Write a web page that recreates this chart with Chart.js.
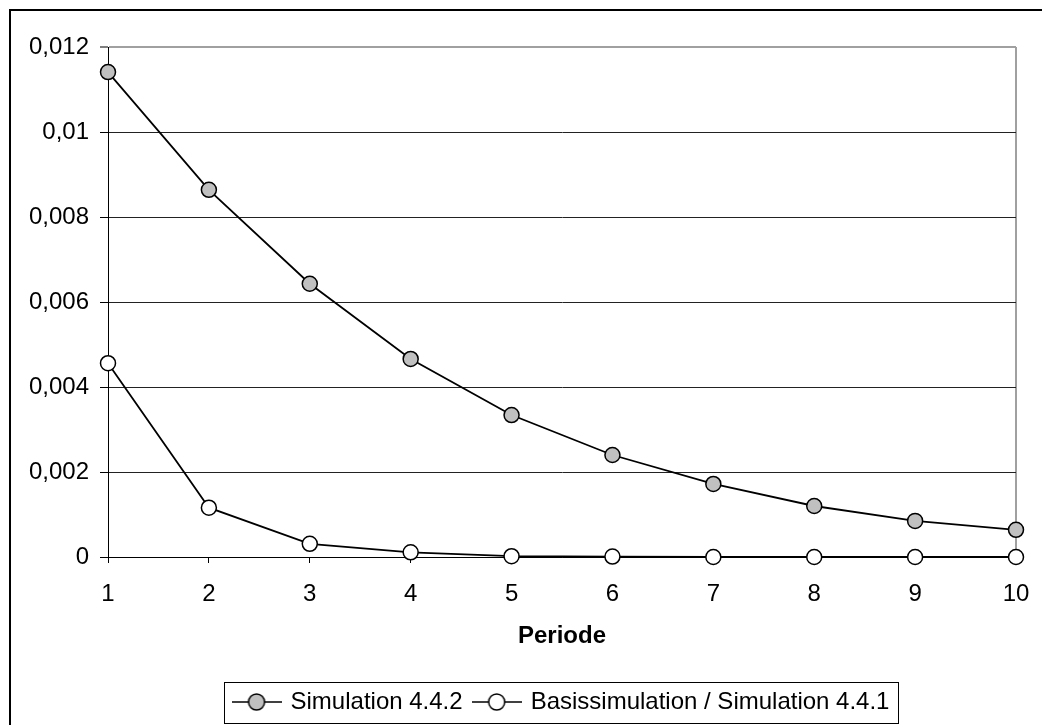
<!DOCTYPE html>
<html>
<head>
<meta charset="utf-8">
<script src="https://cdn.jsdelivr.net/npm/chart.js@4/dist/chart.umd.min.js"></script>
<style>
  html, body { margin: 0; padding: 0; background: #fff; }
  canvas { display: block; }
</style>
</head>
<body>
<canvas id="chart" width="1042" height="725"></canvas>
<script>
// data
const periods = ['1', '2', '3', '4', '5', '6', '7', '8', '9', '10'];
const sim442 = [0.01141, 0.00864, 0.00643, 0.00466, 0.00334, 0.0024, 0.00172, 0.0012, 0.00085, 0.00064];
const basis = [0.00456, 0.00116, 0.00031, 0.00011, 0.00002, 0.00001, 0, 0, 0, 0];
const seriesNames = ['Simulation 4.4.2', 'Basissimulation / Simulation 4.4.1'];
const yTicksMax = 0.012;
const yTicksStep = 0.002;

Chart.defaults.font.family = '"Liberation Sans", Arial, sans-serif';
Chart.defaults.font.size = 24;
Chart.defaults.color = '#000';

// little "—o—" marker for the legend
function legendMarker(fill) {
  const c = document.createElement('canvas');
  c.width = 50; c.height = 20;
  const g = c.getContext('2d');
  g.strokeStyle = '#000';
  g.lineWidth = 1.5;
  g.beginPath(); g.moveTo(0, 10); g.lineTo(50, 10); g.stroke();
  g.beginPath(); g.arc(25, 10, 8, 0, Math.PI * 2);
  g.fillStyle = fill; g.fill(); g.stroke();
  return c;
}
const markers = [legendMarker('#c0c0c0'), legendMarker('#ffffff')];

const frame = {
  id: 'frame',
  beforeDraw(chart) {
    const ctx = chart.ctx;
    ctx.save();
    ctx.fillStyle = '#fff';
    ctx.fillRect(0, 0, chart.width, chart.height);
    ctx.restore();
    // center legend on the plot area like Excel does
    chart.legend.left = chart.chartArea.left;
    chart.legend.right = chart.chartArea.right;
  },
  afterDraw(chart) {
    const ctx = chart.ctx;
    const lg = chart.legend;
    const pad = lg.options.labels.padding;
    const startX = (lg.left + pad + lg.right - lg.lineWidths[0]) / 2;
    const cy = lg.top + pad + 12;
    ctx.save();
    ctx.strokeStyle = '#000';
    ctx.lineWidth = 1;
    const bl = Math.round(startX - 11) + 0.5;
    const br = Math.round(startX + lg.lineWidths[0] - pad + 9) + 0.5;
    ctx.strokeRect(bl, Math.round(cy - 20.5) + 0.5, br - bl, 41);
    // outer chart border
    ctx.lineWidth = 2;
    ctx.strokeRect(10, 10, 2000, 2000);
    ctx.restore();
  }
};

new Chart(document.getElementById('chart'), {
  type: 'line',
  data: {
    labels: periods,
    datasets: [
      {
        label: seriesNames[0], data: sim442,
        borderColor: '#000', borderWidth: 1.8,
        pointRadius: 7.5, pointBackgroundColor: '#c0c0c0', pointBorderColor: '#000', pointBorderWidth: 1.5,
        tension: 0, clip: false
      },
      {
        label: seriesNames[1], data: basis,
        borderColor: '#000', borderWidth: 1.8,
        pointRadius: 7.5, pointBackgroundColor: '#fff', pointBorderColor: '#000', pointBorderWidth: 1.5,
        tension: 0, clip: false
      }
    ]
  },
  options: {
    responsive: false,
    animation: false,
    layout: { autoPadding: false, padding: { left: 0, top: 47, right: 26, bottom: 1 } },
    scales: {
      x: {
        offset: false,
        grid: {
          color: c => c.index === 9 ? '#a0a0a0' : 'rgba(0,0,0,0)',
          lineWidth: c => c.index === 9 ? 2 : 1,
          tickColor: '#000', tickLength: 6, tickWidth: 1
        },
        border: { color: '#000', width: 1 },
        ticks: { padding: 17, maxRotation: 0, color: '#000' },
        title: { display: true, text: 'Periode', font: { weight: 'bold', size: 24 }, padding: { top: 0, bottom: 27 }, color: '#000' },
        afterFit(scale) { scale.height = 121; scale.paddingRight = 0; scale.paddingLeft = 0; }
      },
      y: {
        min: 0, max: yTicksMax,
        grid: {
          color: c => Math.abs(c.tick.value - yTicksMax) < 1e-9 ? '#a0a0a0' : '#222',
          lineWidth: c => Math.abs(c.tick.value - yTicksMax) < 1e-9 ? 2 : 1,
          tickColor: '#000', tickLength: 8, tickWidth: 1
        },
        border: { color: '#000', width: 1 },
        ticks: {
          stepSize: yTicksStep, padding: 11, color: '#000',
          callback: v => String(Math.round(v * 1000) / 1000).replace('.', ',')
        },
        afterFit(scale) { scale.width = 108; scale.paddingTop = 0; scale.paddingBottom = 0; }
      }
    },
    plugins: {
      tooltip: { enabled: false },
      legend: {
        position: 'bottom',
        labels: {
          usePointStyle: true,
          pointStyleWidth: 44,
          padding: 12,
          color: '#000',
          font: { size: 24 },
          generateLabels(chart) {
            const items = Chart.defaults.plugins.legend.labels.generateLabels(chart);
            items.forEach((it, i) => { it.pointStyle = markers[i]; });
            return items;
          }
        }
      }
    }
  },
  plugins: [frame]
});
</script>
</body>
</html>
